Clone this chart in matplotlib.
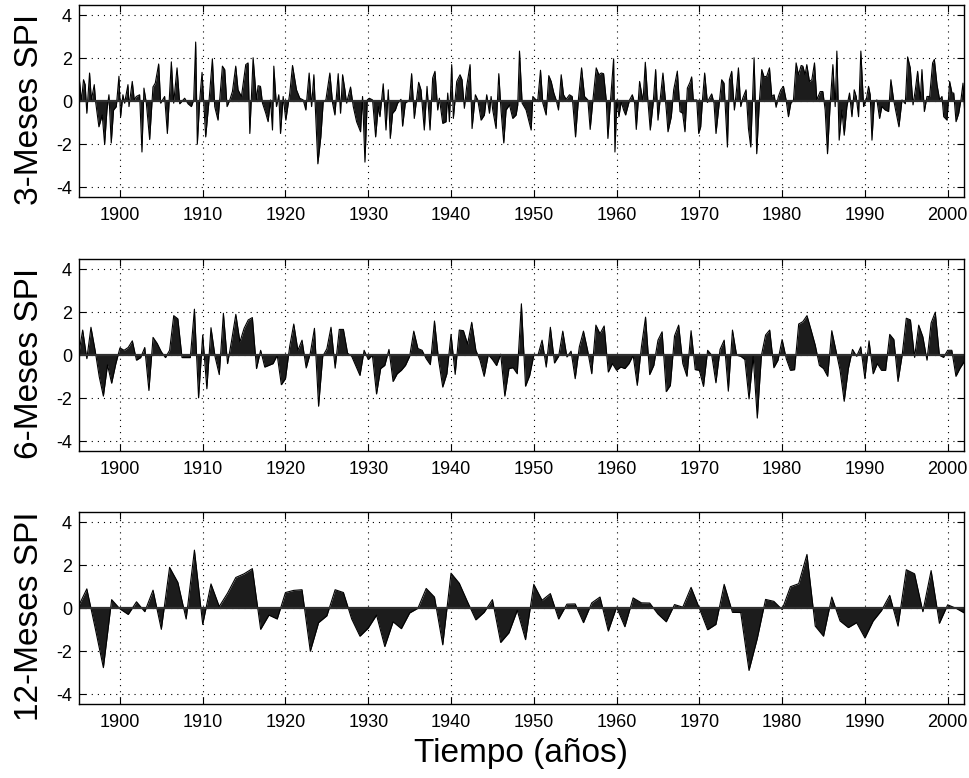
import matplotlib
matplotlib.use('Agg')
import matplotlib.pyplot as plt
import numpy as np

plt.rcParams['font.family'] = ['Liberation Sans', 'DejaVu Sans']
plt.rcParams['axes.unicode_minus'] = False

# SPI 3 meses (lecturas irregulares, aprox. trimestral)
t3 = [1895.10, 1895.35, 1895.60, 1895.80, 1896.00, 1896.33, 1896.55, 1896.90, 1897.06, 1897.46,
      1897.86, 1898.15, 1898.43, 1898.67, 1898.95, 1899.23, 1899.56, 1899.88, 1900.08, 1900.36,
      1900.56, 1900.97, 1901.09, 1901.49, 1901.73, 1901.98, 1902.38, 1902.66, 1902.90, 1903.19,
      1903.59, 1903.99, 1904.27, 1904.68, 1904.92, 1905.40, 1905.73, 1906.21, 1906.49, 1906.90,
      1907.22, 1907.82, 1908.23, 1908.63, 1908.91, 1909.15, 1909.35, 1909.64, 1909.92, 1910.36,
      1910.77, 1911.17, 1911.45, 1911.85, 1912.38, 1912.66, 1912.94, 1913.27, 1913.59, 1913.99,
      1914.27, 1914.68, 1915.20, 1915.48, 1915.69, 1916.09, 1916.49, 1916.69, 1916.98, 1917.22,
      1917.62, 1917.90, 1918.19, 1918.43, 1918.59, 1918.91, 1919.19, 1919.40, 1919.72, 1920.04,
      1920.52, 1920.85, 1921.33, 1921.73, 1922.14, 1922.46, 1922.86, 1923.15, 1923.43, 1923.91,
      1924.27, 1924.56, 1924.88, 1925.36, 1925.69, 1925.97, 1926.37, 1926.65, 1926.90, 1927.18,
      1927.38, 1927.86, 1928.19, 1928.59, 1929.07, 1929.31, 1929.60, 1929.88, 1930.12, 1930.52,
      1930.89, 1931.21, 1931.41, 1931.81, 1932.14, 1932.42, 1932.66, 1932.94, 1933.27, 1933.55,
      1933.95, 1934.15, 1934.48, 1934.96, 1935.24, 1935.56, 1936.09, 1936.37, 1936.57, 1936.77,
      1937.10, 1937.46, 1937.78, 1938.06, 1938.39, 1938.59, 1939.00, 1939.40, 1939.60, 1939.80,
      1940.08, 1940.28, 1940.69, 1941.09, 1941.33, 1941.61, 1941.90, 1942.30, 1942.54, 1942.94,
      1943.23, 1943.63, 1944.03, 1944.31, 1944.64, 1944.84, 1945.04, 1945.44, 1945.77, 1946.05,
      1946.37, 1946.65, 1947.06, 1947.46, 1947.86, 1948.06, 1948.27, 1948.59, 1949.07, 1949.68,
      1949.88, 1950.28, 1950.48, 1950.81, 1951.09, 1951.49, 1951.81, 1952.10, 1952.42, 1952.70,
      1952.98, 1953.31, 1953.59, 1953.91, 1954.31, 1954.64, 1955.04, 1955.40, 1955.77, 1956.13,
      1956.53, 1956.81, 1957.14, 1957.54, 1957.86, 1958.15, 1958.43, 1958.75, 1958.95, 1959.27,
      1959.64, 1959.80, 1960.04, 1960.28, 1960.56, 1960.85, 1961.09, 1961.57, 1961.90, 1962.18,
      1962.38, 1962.78, 1963.19, 1963.47, 1963.79, 1964.07, 1964.40, 1964.72, 1965.00, 1965.60,
      1966.01, 1966.21, 1966.61, 1966.90, 1967.34, 1967.66, 1967.98, 1968.26, 1968.55, 1968.87,
      1969.07, 1969.27, 1969.68, 1969.92, 1970.16, 1970.40, 1970.64, 1970.97, 1971.21, 1971.49,
      1971.77, 1972.01, 1972.42, 1972.70, 1972.98, 1973.39, 1973.63, 1973.91, 1974.23, 1974.51,
      1974.72, 1975.00, 1975.24, 1975.64, 1975.93, 1976.21, 1976.61, 1976.93, 1977.26, 1977.54,
      1977.82, 1978.14, 1978.47, 1978.75, 1979.03, 1979.27, 1979.55, 1979.84, 1980.16, 1980.48,
      1980.76, 1981.05, 1981.37, 1981.69, 1981.97, 1982.30, 1982.50, 1982.78, 1982.98, 1983.30,
      1983.59, 1983.91, 1984.19, 1984.60, 1984.92, 1985.20, 1985.48, 1985.81, 1986.13, 1986.41,
      1986.61, 1986.89, 1987.22, 1987.50, 1987.82, 1988.14, 1988.43, 1988.71, 1988.95, 1989.23,
      1989.51, 1989.84, 1990.16, 1990.44, 1990.64, 1990.85, 1991.13, 1991.45, 1991.77, 1992.05,
      1992.46, 1992.86, 1993.14, 1993.47, 1993.79, 1994.11, 1994.48, 1994.88, 1995.16, 1995.48,
      1995.81, 1996.09, 1996.37, 1996.69, 1996.89, 1997.18, 1997.50, 1997.82, 1998.18, 1998.39,
      1998.71, 1999.03, 1999.31, 1999.52, 1999.92, 2000.24, 2000.52, 2000.73, 2001.01, 2001.33,
      2001.61, 2001.85, 2002.14]
spi3 = [1.0, 0.0, 1.0, 0.77, -0.56, 1.31, 0.06, 0.77, -0.02, -1.19,
        -0.64, -2.0, -0.41, 0.30, -1.94, -0.41, -0.25, 1.16, -0.72, 0.30,
        -0.09, 0.77, -0.25, 0.92, 0.06, 0.22, 0.30, -2.36, 0.61, -0.09,
        -1.78, 0.66, 0.84, 1.73, -0.09, 0.22, -1.5, 1.83, -0.09, 1.55,
        -0.12, 0.14, -0.12, -0.25, 0.06, 2.75, -2.0, 0.06, 1.34, -1.66,
        0.06, 1.97, -0.25, -0.88, 1.63, 1.47, -0.25, 0.06, 0.45, 1.63,
        0.53, 0.22, 1.70, 1.78, -1.5, 2.02, 0.06, 0.72, 0.69, -0.09,
        -0.56, -0.95, 0.06, -1.34, 1.63, -0.25, 0.30, -1.5, 0.22, -0.88,
        0.38, 1.66, 0.53, 0.14, 0.06, -0.41, 1.31, -0.25, 1.23, -2.91,
        -1.66, -0.02, 0.06, 1.31, -0.09, -0.64, 1.28, -0.56, 1.23, 0.53,
        -0.09, 0.66, -0.25, -0.95, -1.42, 0.22, -2.83, 0.06, 0.14, 0.06,
        -1.66, -0.25, -0.72, 0.81, -1.34, 0.53, -1.73, -0.56, -0.41, -0.09,
        0.09, -1.16, -0.09, 0.06, 1.28, -0.80, 0.88, 0.53, -0.41, -1.34,
        0.69, -1.34, 1.08, 1.39, -0.41, 0.14, -1.03, -0.95, 0.38, -0.95,
        1.70, -0.80, 0.92, 1.23, 1.0, -0.33, 0.72, 1.70, -1.27, 0.30,
        0.06, -0.88, -0.64, 0.30, -0.56, 0.22, -0.41, -1.27, 1.28, -0.48,
        -1.94, -0.41, -0.17, -0.80, -0.64, -0.17, 2.33, -0.09, -0.41, -1.34,
        0.22, 0.06, 0.06, 1.44, -0.09, -0.64, 1.19, 0.92, 0.38, 0.06,
        -0.41, 1.23, 0.30, 0.09, 0.30, 0.22, -1.66, 0.14, 1.55, 0.22,
        0.06, -1.31, 0.06, 1.55, 1.23, 1.31, 1.28, 0.06, -1.73, 0.06,
        1.97, -2.36, 0.06, -0.72, -0.02, -0.41, -0.64, 0.06, 0.30, -0.09,
        -1.31, 0.92, -0.02, 1.81, -0.02, -1.34, -0.17, 1.47, -0.88, 1.31,
        -0.41, -1.42, -0.72, 0.53, 1.40, -0.48, -0.56, -1.42, 0.61, 0.88,
        1.13, 0.06, 0.06, -1.5, -1.19, 0.19, 1.31, -0.06, 0.14, 0.34,
        -0.09, -1.5, -0.02, 1.0, 0.84, -2.13, 1.0, 1.39, -0.41, 0.61,
        1.55, -0.25, 0.14, 0.53, -1.27, -2.13, 2.02, -2.44, 0.06, 1.47,
        1.13, 1.16, 1.55, 0.22, 0.30, -0.28, 0.22, 0.53, 0.69, 0.06,
        -0.72, -0.09, 0.06, 1.78, 1.23, 1.66, 1.63, 1.23, 1.70, 0.92,
        1.0, 1.78, 0.06, 0.45, 0.45, -0.41, -2.44, -0.09, 1.70, -0.25,
        2.33, -1.81, -0.41, -1.58, -0.25, 0.38, -0.72, 0.53, 0.22, -0.72,
        2.33, -0.25, 0.06, 0.69, 0.30, -1.81, -0.02, 0.06, -0.80, -0.25,
        -0.41, -0.48, 1.0, 0.06, -0.56, -1.19, 0.06, -0.12, 2.06, 1.55,
        -0.17, 0.53, 1.39, 0.06, 1.47, -0.48, 0.22, 0.22, 1.78, 1.94,
        0.77, 0.06, 0.22, -0.72, -0.88, 0.92, 0.38, 0.38, -0.95, -0.56,
        0.09, 0.84, -1.03]

# SPI 6 meses (semestral, 1895.0 - 2002.0)
spi6 = [0.0, 1.17, -0.16, 1.3, 0.23, -1.0, -1.9, -0.45, -1.3, -0.4,
        0.34, 0.23, 0.36, 0.67, -0.23, -0.11, 0.36, -1.64, 0.83, 0.55,
        0.16, -0.11, 0.23, 1.84, 1.69, -0.11, -0.11, -0.11, 2.14, -1.98,
        0.94, -1.56, 1.28, -0.08, -0.9, 1.95, -0.39, 0.7, 1.9, 0.62,
        1.25, 1.64, 1.75, -0.62, 0.23, -0.55, -0.47, -0.39, 0.0, -1.37,
        -1.09, 0.39, 1.45, 0.23, 0.7, -0.59, 0.1, 1.25, -2.37, -0.05,
        0.3, 1.3, -0.6, 1.2, 1.2, 0.1, -0.05, -0.5, -0.94, 0.23,
        -0.2, 0.0, -1.8, -0.62, -0.47, 0.27, -1.22, -0.86, -0.7, -0.47,
        -0.05, 1.12, 0.31, 0.23, -0.16, -0.44, 1.59, -0.23, -1.48, -0.86,
        0.97, -0.89, 1.17, 1.14, 0.52, 1.53, 0.23, -0.23, -0.98, 0.03,
        -0.2, -0.48, 0.05, -1.9, -0.62, -0.58, -0.86, 2.39, -1.44, -0.94,
        0.0, 0.0, 0.7, -0.55, 1.3, -0.36, -0.05, 1.12, -0.08, 0.19,
        -1.09, 0.39, 1.12, 0.23, -0.86, 1.4, 1.0, 1.36, -0.78, -0.39,
        -0.7, -0.55, -0.62, -0.39, 0.0, -1.4, 0.39, 1.77, -0.9, -0.47,
        0.7, 1.09, -1.69, -1.4, 0.9, 1.4, -0.39, -0.98, 1.14, -0.67,
        -0.7, -1.45, 0.23, 0.0, -1.28, 0.27, 0.7, -1.67, 1.17, 0.0,
        -0.05, -0.2, -2.03, -0.05, -2.92, 0.0, 0.94, 1.17, -0.58, -0.23,
        0.73, -0.16, -0.7, -0.67, 1.45, 1.56, 1.84, 1.17, 0.47, -0.47,
        -0.62, -0.98, 1.14, 0.23, -0.7, -2.14, -0.62, 0.27, -0.05, 0.39,
        -1.09, 0.67, -0.86, -0.39, -0.7, -0.7, 0.97, 0.73, -1.22, 0.0,
        1.72, 1.64, -0.1, 1.4, 0.86, -0.23, 1.5, 2.0, 0.0, -0.1,
        0.23, 0.23, -0.98, -0.6, -0.3]
t6 = np.arange(1895.0, 2002.01, 0.5)

# SPI 12 meses (anual, 1895 - 2002)
spi12 = [0.1, 0.9, -0.9, -2.76, 0.4,
         -0.03, -0.29, 0.3, -0.16, 0.84, -0.98, 1.9, 1.2, -0.5, 2.7,
         -0.75, 1.13, 0.08, 0.7, 1.43, 1.6, 1.84, -0.98, -0.32, -0.5,
         0.73, 0.83, 0.86, -2.0, -0.67, -0.35, 0.86, 0.73, -0.5, -1.3,
         -0.92, -0.32, -1.78, -0.63, -0.95, -0.22, 0.0, 0.92, 0.52, -1.7,
         1.63, 1.16, 0.29, -0.54, -0.19, 0.4, -1.59, -1.14, -0.1, -1.46,
         1.11, 0.37, 0.68, -0.5, 0.19, 0.2, -0.67, 0.25, 0.52, -1.06,
         0.05, -0.86, 0.48, 0.25, 0.24, -0.27, -0.63, 0.17, 0.05, 0.97,
         0.0, -1.0, -0.75, 1.11, -0.19, -0.2, -2.89, -1.4, 0.41, 0.32,
         -0.06, 1.0, 1.14, 2.5, -0.83, -1.3, 0.52, -0.59, -0.9, -0.67,
         -1.38, -0.59, -0.11, 0.6, -0.83, 1.79, 1.6, -0.16, 1.75, -0.7,
         0.16, 0.0, -0.22]
t12 = np.arange(1895, 2003)

labels = ['3-Meses SPI', '6-Meses SPI', '12-Meses SPI']
xticks = list(range(1900, 2001, 10))
yticks = [-4, -2, 0, 2, 4]

fig = plt.figure(figsize=(9.7, 7.78), dpi=100)

# posiciones de los paneles (fraccion de figura)
bottoms = [0.7468, 0.4203, 0.0951]
series = [(t3, spi3), (t6, spi6), (t12, spi12)]

for i in range(3):
    ax = fig.add_axes([0.0814, bottoms[i], 0.9124, 0.2462])
    t, v = series[i]
    ax.fill_between(t, v, 0, color='#1c1c1c', lw=0)
    ax.plot(t, v, color='k', lw=0.8)
    ax.axhline(0, color='#303030', lw=1.6)
    ax.set_xlim(1895.05, 2001.97)
    ax.set_ylim(-4.45, 4.45)
    ax.set_xticks(xticks)
    ax.set_yticks(yticks)
    ax.set_axisbelow(True)
    ax.grid(True, linestyle=(0, (1, 4.5)), color='k', lw=0.8)
    ax.tick_params(direction='in', top=True, right=True, length=5, width=0.8)
    ax.tick_params(axis='x', labelsize=13, pad=7)
    ax.tick_params(axis='y', labelsize=13, pad=5)
    for s in ax.spines.values():
        s.set_linewidth(1.0)
    ax.set_ylabel(labels[i], fontsize=24)
    ax.yaxis.set_label_coords(-0.038, 0.458)
    if i == 2:
        ax.set_xlabel('Tiempo (años)', fontsize=24, labelpad=5)

plt.savefig('out.png', dpi=100)
